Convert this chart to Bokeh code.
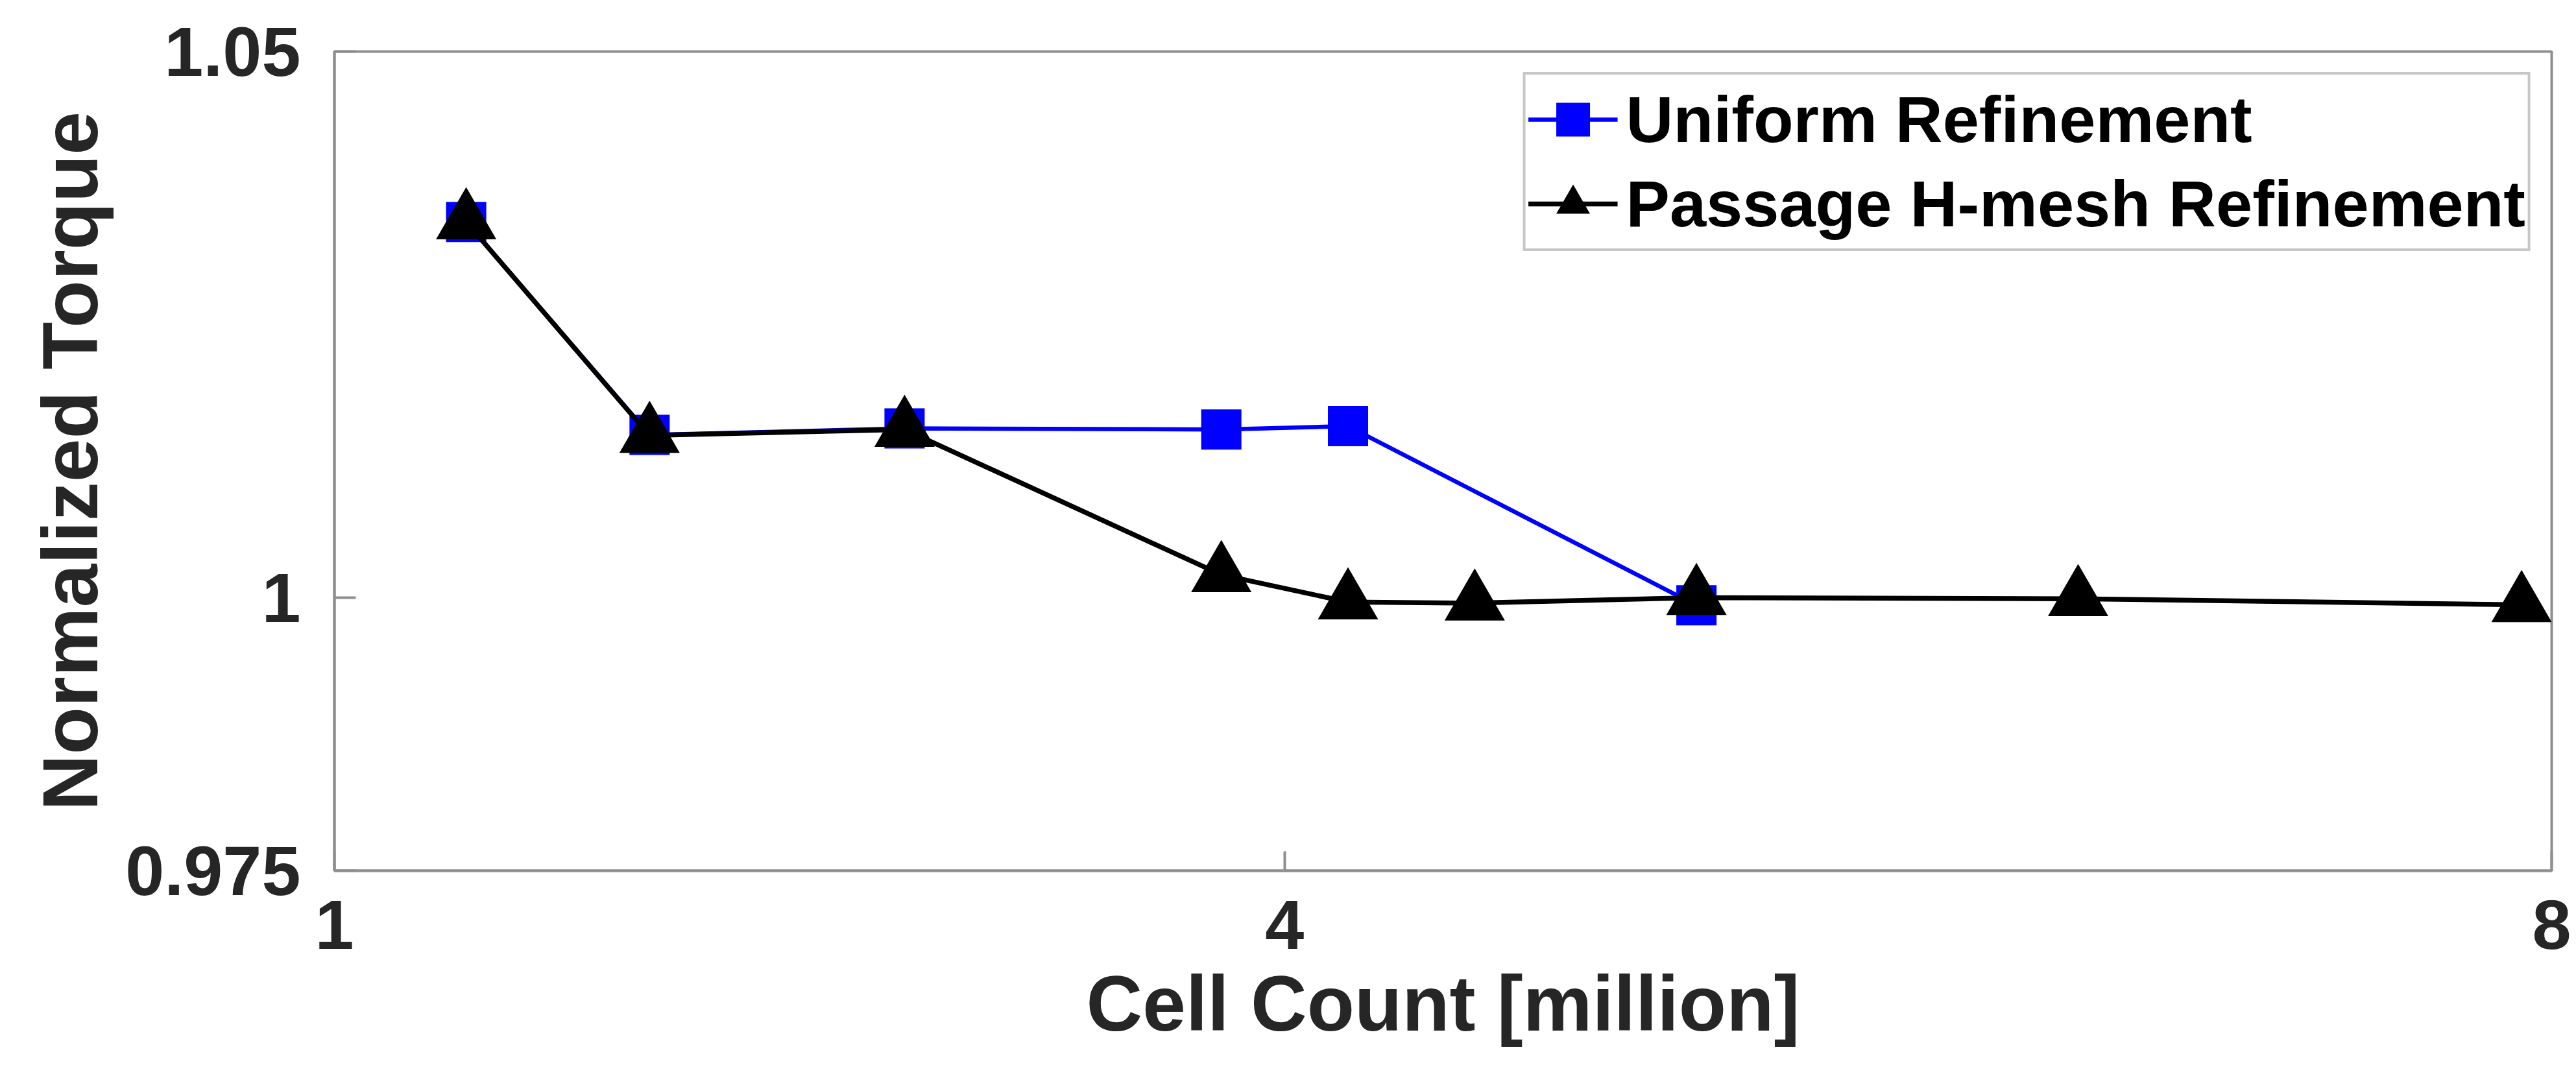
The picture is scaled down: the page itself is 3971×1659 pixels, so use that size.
from bokeh.plotting import figure
from bokeh.models import (Range1d, FixedTicker, CustomJSTickFormatter, Legend, LegendItem)
from bokeh.embed import file_html
from bokeh.resources import INLINE

# ---- data ----
uniform_x = [1.416, 1.995, 2.80, 3.80, 4.20, 5.30]
uniform_y = [1.0344, 1.0149, 1.0155, 1.0154, 1.0157, 0.9993]
hmesh_x = [1.416, 1.995, 2.80, 3.80, 4.20, 4.60, 5.30, 6.505, 7.905]
hmesh_y = [1.0344, 1.01485, 1.0154, 1.0021, 0.9996, 0.9995, 1.0000, 0.9999, 0.99935]
x_ticks = [1, 4, 8]
y_ticks = [0.975, 1.0, 1.05]
series_names = ["Uniform Refinement", "Passage H-mesh Refinement"]
x_title = "Cell Count [million]"
y_title = "Normalized Torque"

FONT = "Liberation Sans"
TXT = "#262626"
GRAY = "#8f8f8f"

p = figure(width=3971, height=1659, output_backend="svg", toolbar_location=None,
           x_range=Range1d(1, 8), y_range=Range1d(0.975, 1.05),
           min_border_left=515, min_border_right=38, min_border_top=79, min_border_bottom=317)
p.background_fill_color = "white"
p.border_fill_color = "white"
p.outline_line_color = GRAY
p.outline_line_width = 4
p.grid.visible = False

fmt = CustomJSTickFormatter(code="return String(parseFloat(tick.toFixed(4)));")

for ax, ticks in ((p.xaxis[0], x_ticks), (p.yaxis[0], y_ticks)):
    ax.ticker = FixedTicker(ticks=ticks)
    ax.formatter = fmt
    ax.major_tick_out = 0
    ax.minor_tick_line_color = None
    ax.major_tick_line_color = GRAY
    ax.major_tick_line_width = 4
    ax.axis_line_color = GRAY
    ax.axis_line_width = 4
    ax.major_label_text_font = FONT
    ax.major_label_text_font_style = "bold"
    ax.major_label_text_font_size = "108px"
    ax.major_label_text_color = TXT
    ax.axis_label_text_font = FONT
    ax.axis_label_text_font_style = "bold"
    ax.axis_label_text_font_size = "120px"
    ax.axis_label_text_color = TXT

p.xaxis[0].major_tick_in = 30
p.yaxis[0].major_tick_in = 33
p.xaxis[0].major_label_standoff = 45
p.yaxis[0].major_label_standoff = 52
p.xaxis[0].axis_label = x_title
p.yaxis[0].axis_label = y_title
p.xaxis[0].axis_label_standoff = 14
p.yaxis[0].axis_label_standoff = 15

# uniform refinement (drawn first)
l1 = p.line(uniform_x, uniform_y, line_color="#0000ff", line_width=6.5)
s1 = p.scatter(uniform_x, uniform_y, marker="square", size=62,
               fill_color="#0000ff", line_color="#0000ff", line_width=0)
# passage H-mesh refinement
l2 = p.line(hmesh_x, hmesh_y, line_color="black", line_width=7.5)
s2 = p.scatter(hmesh_x, hmesh_y, marker="triangle", size=93,
               fill_color="black", line_color="black", line_width=0)

legend = Legend(items=[LegendItem(label=series_names[0], renderers=[l1, s1]),
                       LegendItem(label=series_names[1], renderers=[l2, s2])],
                location="top_right")
legend.margin = 32
legend.padding = 4
legend.spacing = 0
legend.glyph_width = 138
legend.glyph_height = 130
legend.label_height = 126
legend.label_standoff = 13
legend.label_text_font = FONT
legend.label_text_font_style = "bold"
legend.label_text_font_size = "101px"
legend.label_text_color = "black"
legend.border_line_color = GRAY
legend.border_line_width = 4
legend.background_fill_color = "white"
legend.background_fill_alpha = 1.0
p.add_layout(legend, "center")

open("out.html", "w").write(file_html(p, INLINE))
